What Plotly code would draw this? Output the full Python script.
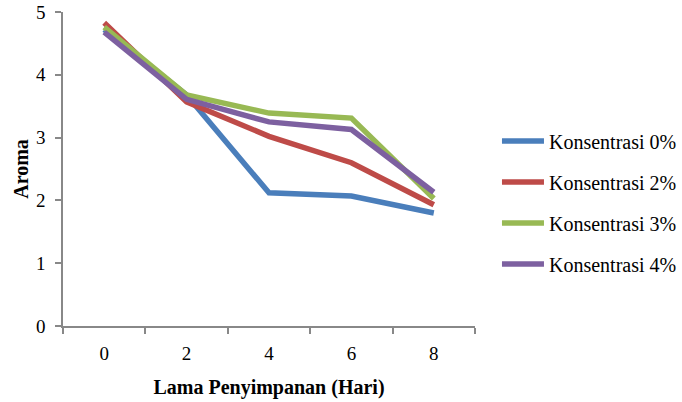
import plotly.graph_objects as go

days = ["0", "2", "4", "6", "8"]
series_names = ["Konsentrasi 0%", "Konsentrasi 2%", "Konsentrasi 3%", "Konsentrasi 4%"]
k0 = [4.72, 3.68, 2.12, 2.07, 1.80]
k2 = [4.83, 3.57, 3.02, 2.60, 1.93]
k3 = [4.76, 3.68, 3.39, 3.31, 2.03]
k4 = [4.68, 3.61, 3.25, 3.13, 2.13]
y_ticks = [0, 1, 2, 3, 4, 5]

colors = ["#4A7EBB", "#BE4B48", "#98B954", "#7D60A0"]

fig = go.Figure()
for name, vals, c in zip(series_names, [k0, k2, k3, k4], colors):
    fig.add_trace(go.Scatter(
        x=days, y=vals, name=name, mode="lines",
        line=dict(color=c, width=5.5),
        legendgroup=name,
    ))

serif = "Liberation Serif"
fig.update_layout(
    width=682, height=402,
    margin=dict(l=63, r=207, t=12, b=76),
    paper_bgcolor="white", plot_bgcolor="white",
    font=dict(family=serif, color="#000000", size=19),
    showlegend=True,
    legend=dict(
        x=0.7287, xanchor="left", xref="container",
        y=0.496, yanchor="middle", yref="container",
        traceorder="grouped", tracegroupgap=12,
        font=dict(family=serif, size=20, color="#000"),
        itemwidth=42,
        bgcolor="rgba(0,0,0,0)",
    ),
    xaxis=dict(
        type="category", range=[-0.5, 4.5], automargin=False,
        showline=True, linecolor="#888888", linewidth=1.5,
        ticks="outside", ticklen=6, tickcolor="#888888", tickwidth=1.5,
        tickson="boundaries",
        showgrid=False, zeroline=False,
        tickfont=dict(family=serif, size=19),
        ticklabelstandoff=9,
        title=dict(text="<b>Lama Penyimpanan (Hari)</b>", font=dict(family=serif, size=20), standoff=17),
    ),
    yaxis=dict(
        range=[0, 5], tickvals=y_ticks, automargin=False,
        showline=True, linecolor="#888888", linewidth=1.5,
        ticks="outside", ticklen=6, tickcolor="#888888", tickwidth=1.5,
        showgrid=False, zeroline=False,
        tickfont=dict(family=serif, size=19),
        ticklabelstandoff=6,
        title=dict(text="<b>Aroma</b>", font=dict(family=serif, size=20), standoff=2),
    ),
)

fig.write_html("out.html")
